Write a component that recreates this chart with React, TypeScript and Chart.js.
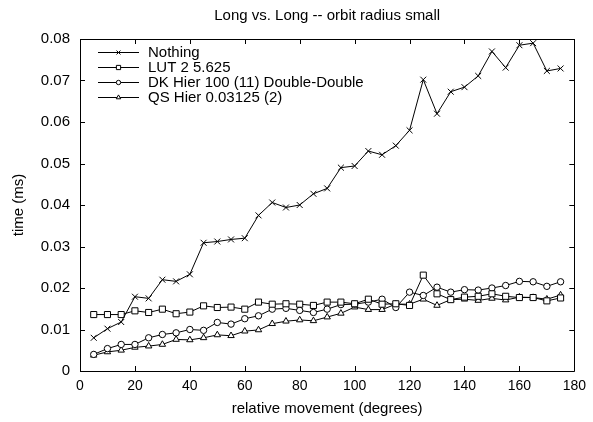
import React, { useEffect, useRef } from "react";
import { Chart, registerables } from "chart.js";
import { drawPoint } from "chart.js/helpers";

Chart.register(...registerables);

const chartTitle = "Long vs. Long -- orbit radius small";
const xTitle = "relative movement (degrees)";
const yTitle = "time (ms)";

const xValues = [5, 10, 15, 20, 25, 30, 35, 40, 45, 50, 55, 60, 65, 70, 75, 80, 85, 90, 95, 100, 105, 110, 115, 120, 125, 130, 135, 140, 145, 150, 155, 160, 165, 170, 175];

const seriesNames = ["Nothing", "LUT 2 5.625", "DK Hier 100 (11) Double-Double", "QS Hier 0.03125 (2)"];

const nothing = [0.0080, 0.0102, 0.0118, 0.0179, 0.0175, 0.0220, 0.0216, 0.0233, 0.0309, 0.0312, 0.0317, 0.0320, 0.0375, 0.0406, 0.0394, 0.0400, 0.0427, 0.0440, 0.0490, 0.0494, 0.0530, 0.0521, 0.0543, 0.0580, 0.0702, 0.0620, 0.0673, 0.0684, 0.0711, 0.0770, 0.0731, 0.0785, 0.0790, 0.0723, 0.0729];
const lut = [0.0136, 0.0136, 0.0136, 0.0145, 0.0141, 0.0149, 0.0138, 0.0142, 0.0157, 0.0153, 0.0154, 0.0149, 0.0166, 0.0161, 0.0162, 0.0161, 0.0158, 0.0166, 0.0166, 0.0162, 0.0173, 0.0161, 0.0162, 0.0158, 0.0231, 0.0186, 0.0172, 0.0178, 0.0180, 0.0186, 0.0180, 0.0177, 0.0177, 0.0169, 0.0176];
const dkHier = [0.0040, 0.0054, 0.0064, 0.0064, 0.0080, 0.0088, 0.0092, 0.0100, 0.0098, 0.0117, 0.0113, 0.0126, 0.0133, 0.0149, 0.0151, 0.0146, 0.0141, 0.0149, 0.0160, 0.0161, 0.0166, 0.0173, 0.0153, 0.0190, 0.0182, 0.0202, 0.0190, 0.0196, 0.0195, 0.0200, 0.0206, 0.0216, 0.0215, 0.0204, 0.0215];
const qsHier = [0.0038, 0.0046, 0.0050, 0.0057, 0.0060, 0.0064, 0.0076, 0.0075, 0.0080, 0.0087, 0.0085, 0.0096, 0.0099, 0.0114, 0.0120, 0.0123, 0.0121, 0.0130, 0.0139, 0.0154, 0.0148, 0.0148, 0.0161, 0.0161, 0.0173, 0.0158, 0.0172, 0.0173, 0.0170, 0.0175, 0.0171, 0.0178, 0.0177, 0.0173, 0.0183];

const pointStyles = ["crossRot", "rect", "circle", "triangle"];
const pointRadii = [4.2, 4.3, 3.2, 3.7];
const legendRadii = [2.8, 3.0, 2.2, 2.6];

const FONT = "'Liberation Sans', Arial, Helvetica, sans-serif";

const framePlugin = {
  id: "gnuFrame",
  afterDraw(chart: any) {
    const { ctx, chartArea, scales } = chart;
    const { left, right, top, bottom } = chartArea;
    ctx.save();
    ctx.strokeStyle = "#000";
    ctx.lineWidth = 1;
    ctx.beginPath();
    ctx.rect(Math.round(left) + 0.5, Math.round(top) + 0.5, Math.round(right - left), Math.round(bottom - top));
    ctx.stroke();
    const tl = 5;
    ctx.beginPath();
    scales.x.ticks.forEach((t: any) => {
      const x = Math.round(scales.x.getPixelForValue(t.value)) + 0.5;
      ctx.moveTo(x, bottom);
      ctx.lineTo(x, bottom - tl);
      ctx.moveTo(x, top);
      ctx.lineTo(x, top + tl);
    });
    scales.y.ticks.forEach((t: any) => {
      const y = Math.round(scales.y.getPixelForValue(t.value)) + 0.5;
      ctx.moveTo(left, y);
      ctx.lineTo(left + tl, y);
      ctx.moveTo(right, y);
      ctx.lineTo(right - tl, y);
    });
    ctx.stroke();

    // titles
    ctx.fillStyle = "#000";
    ctx.textAlign = "center";
    ctx.textBaseline = "middle";
    ctx.font = `15px ${FONT}`;
    ctx.fillText(chartTitle, (left + right) / 2, 16);
    ctx.fillText(xTitle, (left + right) / 2, 409);
    ctx.save();
    ctx.translate(19, (top + bottom) / 2);
    ctx.rotate(-Math.PI / 2);
    ctx.fillText(yTitle, 0, 0);
    ctx.restore();

    // legend
    ctx.textAlign = "left";
    ctx.font = `15px ${FONT}`;
    chart.data.datasets.forEach((ds: any, i: number) => {
      const y = Math.round(52 + i * 15) + 0.5;
      ctx.strokeStyle = "#000";
      ctx.lineWidth = 1;
      ctx.beginPath();
      ctx.moveTo(98, y);
      ctx.lineTo(139, y);
      ctx.stroke();
      ctx.fillStyle = "#fff";
      drawPoint(ctx, { pointStyle: pointStyles[i], radius: legendRadii[i], borderWidth: 1, rotation: 0 } as any, 118.5, y);
      ctx.fillStyle = "#000";
      ctx.fillText(seriesNames[i], 148, y + 0.5);
    });
    ctx.restore();
  },
};

export default function App() {
  const ref = useRef<HTMLCanvasElement | null>(null);
  useEffect(() => {
    document.body.style.margin = "0";
    const all = [nothing, lut, dkHier, qsHier];
    const chart = new Chart(ref.current as HTMLCanvasElement, {
      type: "line",
      data: {
        datasets: all.map((vals, i) => ({
          label: seriesNames[i],
          data: xValues.map((x, j) => ({ x, y: vals[j] })),
          borderColor: "#000",
          borderWidth: 1,
          backgroundColor: "#fff",
          pointStyle: pointStyles[i] as any,
          pointRadius: pointRadii[i],
          pointBorderWidth: 1,
          pointBorderColor: "#000",
          pointBackgroundColor: "#fff",
          tension: 0,
          fill: false,
        })),
      },
      options: {
        responsive: false,
        animation: false,
        devicePixelRatio: 1,
        layout: { padding: { top: 39, right: 13, left: 0, bottom: 0 } },
        plugins: { legend: { display: false }, title: { display: false }, tooltip: { enabled: false } },
        scales: {
          x: {
            type: "linear",
            min: 0,
            max: 180,
            ticks: { stepSize: 20, padding: 7, color: "#000", font: { family: FONT, size: 14 }, maxRotation: 0 },
            grid: { display: false, drawTicks: false },
            border: { display: false },
            afterFit: (s: any) => { s.height = 51; },
          },
          y: {
            type: "linear",
            min: 0,
            max: 0.08,
            ticks: {
              stepSize: 0.01,
              padding: 10,
              color: "#000",
              font: { family: FONT, size: 15 },
              callback: (v: any) => (Math.abs(Number(v)) < 1e-9 ? "0" : Number(v).toFixed(2)),
            },
            grid: { display: false, drawTicks: false },
            border: { display: false },
            afterFit: (s: any) => { s.width = 80; },
          },
        },
      },
      plugins: [framePlugin],
    });
    return () => chart.destroy();
  }, []);
  return (
    <div style={{ position: "fixed", left: 0, top: 0, width: 593, height: 422, background: "#fff" }}>
      <canvas ref={ref} width={593} height={422} />
    </div>
  );
}
